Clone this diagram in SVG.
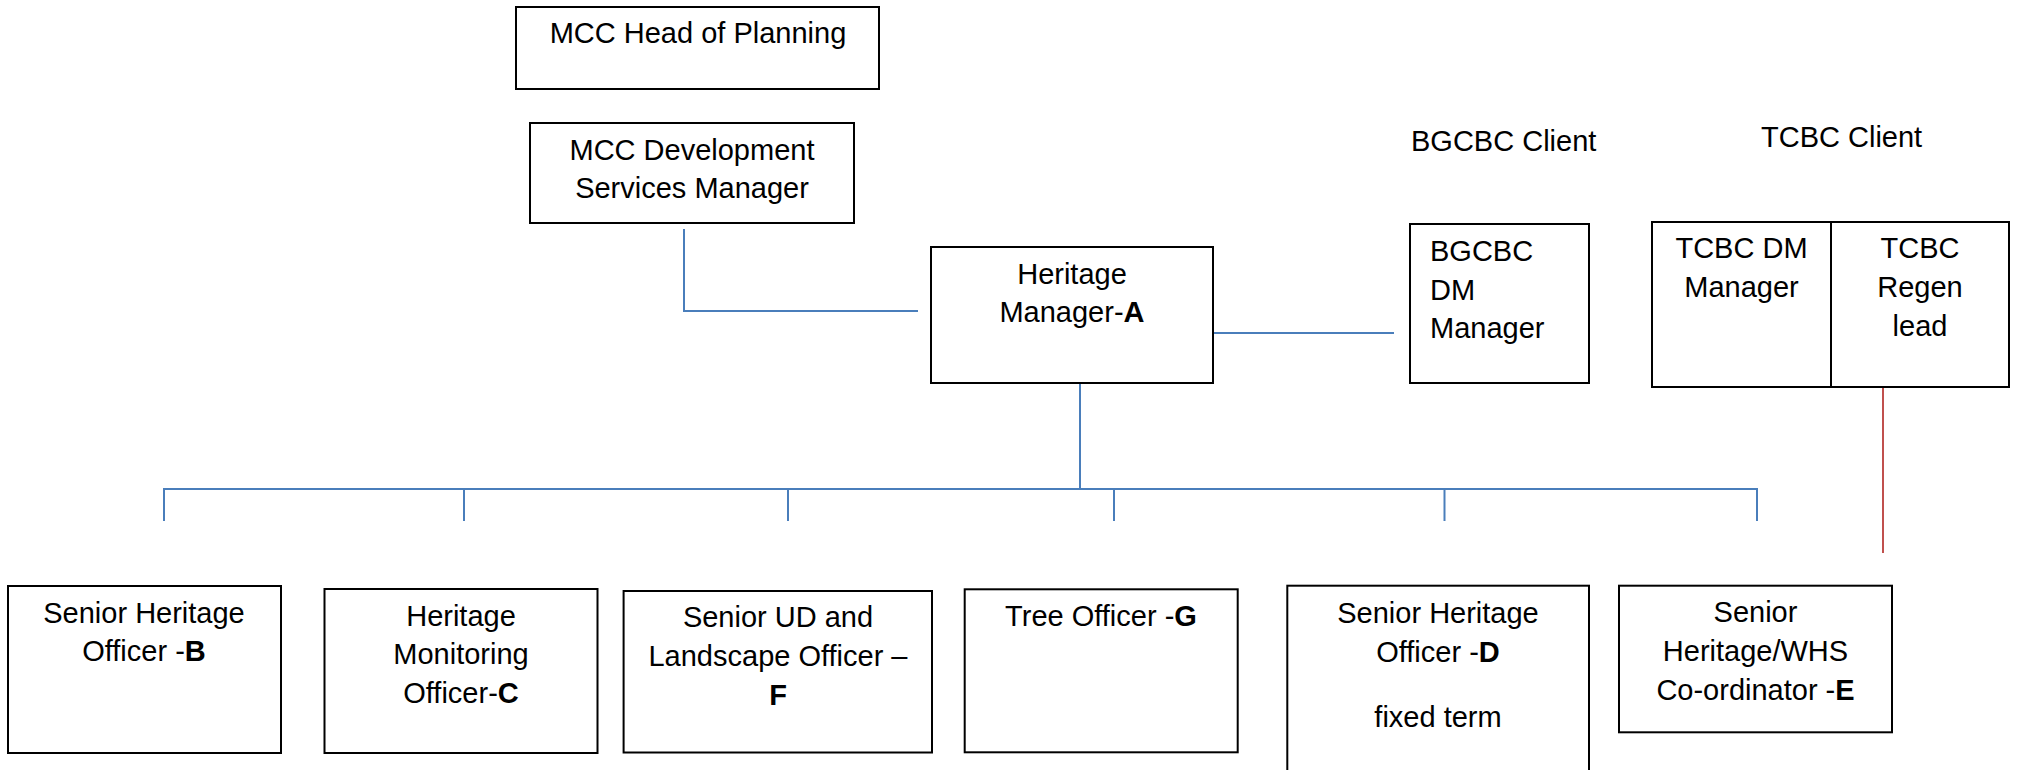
<svg xmlns="http://www.w3.org/2000/svg" width="2018" height="770" viewBox="0 0 2018 770">
<style>
.box{fill:#fff;stroke:#000;stroke-width:2}
.t{font-family:"Liberation Sans",Arial,sans-serif;font-size:29px;fill:#000}
.c{text-anchor:middle}
.b{font-weight:bold}
.blue{stroke:#4A7EBB;stroke-width:2;fill:none}
.red{stroke:#C0504D;stroke-width:2;fill:none}
</style>
<rect width="2018" height="770" fill="#fff"/>
<g id="connectors">
<polyline class="blue" points="684,229 684,311 918,311"/>
<line class="blue" x1="1214" y1="333" x2="1394" y2="333"/>
<line class="blue" x1="1080" y1="383" x2="1080" y2="489"/>
<polyline class="blue" points="164,521 164,489 1757,489 1757,521"/>
<line class="blue" x1="464" y1="489" x2="464" y2="521"/>
<line class="blue" x1="788" y1="489" x2="788" y2="521"/>
<line class="blue" x1="1114" y1="489" x2="1114" y2="521"/>
<line class="blue" x1="1444.5" y1="489" x2="1444.5" y2="521"/>
<line class="red" x1="1883" y1="388" x2="1883" y2="553"/>
</g>
<g id="mcc-head">
<rect class="box" x="516" y="7" width="363" height="82"/>
<text class="t c" x="698" y="43">MCC Head of Planning</text>
</g>
<g id="mcc-dev">
<rect class="box" x="530" y="123" width="324" height="100"/>
<text class="t c" x="692" y="160">MCC Development</text>
<text class="t c" x="692" y="198">Services Manager</text>
</g>
<g id="heritage-manager">
<rect class="box" x="931" y="247" width="282" height="136"/>
<text class="t c" x="1072" y="284">Heritage</text>
<text class="t c" x="1072" y="322">Manager-<tspan class="b">A</tspan></text>
</g>
<g id="bgcbc-client">
<text class="t" x="1411" y="151">BGCBC Client</text>
</g>
<g id="bgcbc-dm">
<rect class="box" x="1410" y="224" width="179" height="159"/>
<text class="t" x="1430" y="261">BGCBC</text>
<text class="t" x="1430" y="300">DM</text>
<text class="t" x="1430" y="338">Manager</text>
</g>
<g id="tcbc-client">
<text class="t" x="1761" y="147">TCBC Client</text>
</g>
<g id="tcbc-dm">
<rect class="box" x="1652" y="222" width="179" height="165"/>
<text class="t c" x="1741.5" y="258">TCBC DM</text>
<text class="t c" x="1741.5" y="297">Manager</text>
</g>
<g id="tcbc-regen">
<rect class="box" x="1831" y="222" width="178" height="165"/>
<text class="t c" x="1920" y="258">TCBC</text>
<text class="t c" x="1920" y="297">Regen</text>
<text class="t c" x="1920" y="336">lead</text>
</g>
<g id="officer-b">
<rect class="box" x="8" y="586" width="273" height="167"/>
<text class="t c" x="144" y="623">Senior Heritage</text>
<text class="t c" x="144" y="661">Officer -<tspan class="b">B</tspan></text>
</g>
<g id="officer-c">
<rect class="box" x="324.5" y="589" width="273" height="164"/>
<text class="t c" x="461" y="626">Heritage</text>
<text class="t c" x="461" y="664">Monitoring</text>
<text class="t c" x="461" y="703">Officer-<tspan class="b">C</tspan></text>
</g>
<g id="officer-f">
<rect class="box" x="623.6" y="591" width="308.4" height="161.5"/>
<text class="t c" x="778" y="627">Senior UD and</text>
<text class="t c" x="778" y="666">Landscape Officer –</text>
<text class="t c b" x="778" y="705">F</text>
</g>
<g id="officer-g">
<rect class="box" x="964.7" y="589.3" width="273" height="163"/>
<text class="t c" x="1101" y="626">Tree Officer -<tspan class="b">G</tspan></text>
</g>
<g id="officer-d">
<rect class="box" x="1287.3" y="585.7" width="301.7" height="200"/>
<text class="t c" x="1438" y="623">Senior Heritage</text>
<text class="t c" x="1438" y="662">Officer -<tspan class="b">D</tspan></text>
<text class="t c" x="1438" y="727">fixed term</text>
</g>
<g id="officer-e">
<rect class="box" x="1619" y="585.7" width="273" height="146.6"/>
<text class="t c" x="1755.5" y="622">Senior</text>
<text class="t c" x="1755.5" y="661">Heritage/WHS</text>
<text class="t c" x="1755.5" y="700">Co-ordinator -<tspan class="b">E</tspan></text>
</g>
</svg>
